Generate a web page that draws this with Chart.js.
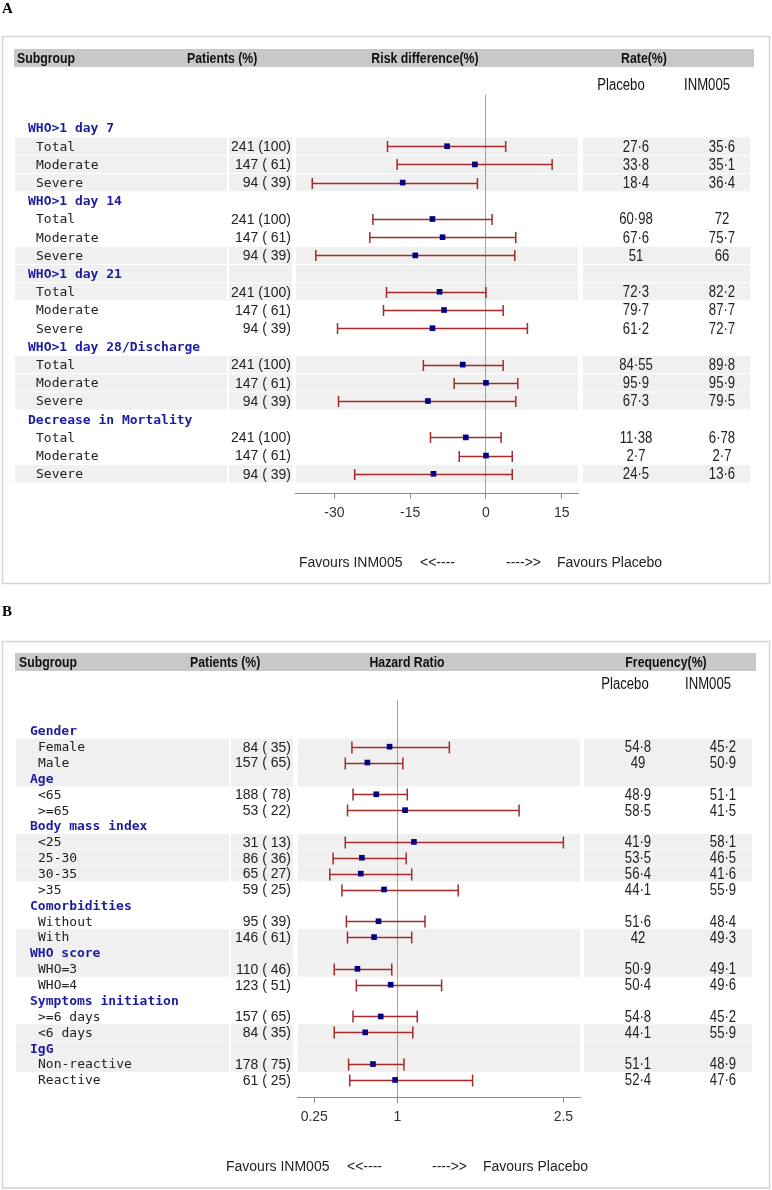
<!DOCTYPE html>
<html>
<head>
<meta charset="utf-8">
<script src="https://cdn.jsdelivr.net/npm/chart.js@4.4.0/dist/chart.umd.min.js"></script>
<style>
body { margin: 0; background: #fff; }
.panel { position: absolute; left: 0; width: 772px; }
#wrapA { top: 0; height: 590px; }
#wrapB { top: 590px; height: 600px; }
</style>
</head>
<body>
<div class="panel" id="wrapA"><canvas id="forestA"></canvas></div>
<div class="panel" id="wrapB"><canvas id="forestB"></canvas></div>
<script>
// ---- panel A: risk difference (%) ----
var groupsA = ['WHO>1 day 7', 'WHO>1 day 14', 'WHO>1 day 21', 'WHO>1 day 28/Discharge', 'Decrease in Mortality'];
var groupSizeA = [3, 3, 3, 3, 3];
var subgroupsA = ['Total', 'Moderate', 'Severe', 'Total', 'Moderate', 'Severe', 'Total', 'Moderate', 'Severe',
    'Total', 'Moderate', 'Severe', 'Total', 'Moderate', 'Severe'];
var patientsA = [241, 147, 94, 241, 147, 94, 241, 147, 94, 241, 147, 94, 241, 147, 94];
var pctA = [100, 61, 39, 100, 61, 39, 100, 61, 39, 100, 61, 39, 100, 61, 39];
var diffA = [-7.7, -2.2, -16.5, -10.6, -8.6, -14.0, -9.2, -8.3, -10.6, -4.6, 0.0, -11.5, -4.0, 0.0, -10.4];
var lowA = [-19.5, -17.6, -34.4, -22.4, -23.0, -33.7, -19.7, -20.3, -29.4, -12.4, -6.3, -29.2, -11.0, -5.3, -26.0];
var highA = [3.9, 13.1, -1.7, 1.2, 5.9, 5.7, 0.0, 3.4, 8.2, 3.4, 6.3, 5.9, 3.0, 5.2, 5.2];
var placeboA = [27.6, 33.8, 18.4, 60.98, 67.6, 51, 72.3, 79.7, 61.2, 84.55, 95.9, 67.3, 11.38, 2.7, 24.5];
var inmA = [35.6, 35.1, 36.4, 72, 75.7, 66, 82.2, 87.7, 72.7, 89.8, 95.9, 79.5, 6.78, 2.7, 13.6];
var ticksA = [-30, -15, 0, 15];
var titlesA = ['Subgroup', 'Patients (%)', 'Risk difference(%)', 'Rate(%)'];

// ---- panel B: hazard ratio ----
var groupsB = ['Gender', 'Age', 'Body mass index', 'Comorbidities', 'WHO score', 'Symptoms initiation', 'IgG'];
var groupSizeB = [2, 2, 4, 2, 2, 2, 2];
var subgroupsB = ['Female', 'Male', '<65', '>=65', '<25', '25-30', '30-35', '>35', 'Without', 'With',
    'WHO=3', 'WHO=4', '>=6 days', '<6 days', 'Non-reactive', 'Reactive'];
var patientsB = [84, 157, 188, 53, 31, 86, 65, 59, 95, 146, 110, 123, 157, 84, 178, 61];
var pctB = [35, 65, 78, 22, 13, 36, 27, 25, 39, 61, 46, 51, 65, 35, 75, 25];
var hrB = [0.93, 0.73, 0.81, 1.07, 1.15, 0.68, 0.67, 0.88, 0.83, 0.79, 0.64, 0.94, 0.85, 0.71, 0.78, 0.98];
var lowB = [0.59, 0.53, 0.60, 0.55, 0.53, 0.42, 0.39, 0.50, 0.54, 0.55, 0.43, 0.63, 0.60, 0.43, 0.56, 0.57];
var highB = [1.47, 1.05, 1.09, 2.10, 2.50, 1.08, 1.13, 1.55, 1.25, 1.13, 0.95, 1.40, 1.18, 1.14, 1.06, 1.68];
var placeboB = [54.8, 49, 48.9, 58.5, 41.9, 53.5, 56.4, 44.1, 51.6, 42, 50.9, 50.4, 54.8, 44.1, 51.1, 52.4];
var inmB = [45.2, 50.9, 51.1, 41.5, 58.1, 46.5, 41.6, 55.9, 48.4, 49.3, 49.1, 49.6, 45.2, 55.9, 48.9, 47.6];
var ticksB = [0.25, 1, 2.5];
var titlesB = ['Subgroup', 'Patients (%)', 'Hazard Ratio', 'Frequency(%)'];

var armLabels = ['Placebo', 'INM005'];
var favourLabels = ['Favours INM005', '<<----', '---->>', 'Favours Placebo'];

var SANS = '"Liberation Sans", Arial, sans-serif';
var MONO = '"DejaVu Sans Mono", monospace';

function fmtNum(v) {
    return String(v).replace('.', '\u00b7');
}
function fmtPatients(n, p) {
    var s = String(p);
    while (s.length < 3) s = ' ' + s;
    return n + ' (' + s + ')';
}
// squeezed Arial, stands in for the narrow font of the original
function narrowText(c, t, x, y, align) {
    c.save();
    c.translate(x, y);
    c.scale(0.82, 1);
    c.textAlign = align;
    c.fillText(t, 0, 0);
    c.restore();
}

function ForestChart(L, D) {
    // rows: group header followed by its subgroups
    var rows = [], k = 0;
    D.groups.forEach(function (g, gi) {
        rows.push({ head: g });
        for (var j = 0; j < D.sizes[gi]; j++) {
            rows.push({ k: k });
            k++;
        }
    });
    var points = [];
    rows.forEach(function (r, i) {
        if (r.head === undefined) points.push({ x: D.est[r.k], y: i });
    });
    var axisH = 30;

    var table = {
        id: 'table',
        beforeDraw: function (chart) {
            var c = chart.ctx, ys = chart.scales.y;
            var step = ys.getPixelForValue(1) - ys.getPixelForValue(0);
            c.save();
            c.textBaseline = 'middle';
            c.fillStyle = '#000';
            c.font = 'bold 15px "Liberation Serif", serif';
            c.textAlign = 'left';
            c.fillText(L.tag, 2, L.tagY);

            c.strokeStyle = '#d4d4d4';
            c.lineWidth = 1.5;
            c.strokeRect(L.box[0], L.box[1], L.box[2], L.box[3]);

            c.fillStyle = '#c8c8c8';
            c.fillRect(L.bar[0], L.bar[1], L.bar[2], L.bar[3]);
            c.fillStyle = '#111';
            c.font = 'bold 15px ' + SANS;
            D.titles.forEach(function (t, i) {
                narrowText(c, t, L.titleX[i], L.bar[1] + L.bar[3] / 2 + 1, L.titleAlign[i]);
            });
            c.font = '16px ' + SANS;
            armLabels.forEach(function (t, i) {
                narrowText(c, t, L.armX[i], L.armY, 'center');
            });

            // banded rows, three at a time
            c.fillStyle = '#f0f0f0';
            rows.forEach(function (r, i) {
                if (i < 1 || Math.floor((i - 1) / 3) % 2) return;
                var py = ys.getPixelForValue(i);
                L.cols.forEach(function (col) {
                    c.fillRect(col[0], py - step / 2 + L.rowGap / 2, col[1] - col[0], step - L.rowGap);
                });
            });

            rows.forEach(function (r, i) {
                var py = ys.getPixelForValue(i);
                if (r.head !== undefined) {
                    c.fillStyle = '#1c1ca0';
                    c.font = 'bold 13px ' + MONO;
                    c.textAlign = 'left';
                    c.fillText(r.head, L.headX, py + 1);
                    return;
                }
                c.fillStyle = '#222';
                c.font = '13px ' + MONO;
                c.textAlign = 'left';
                c.fillText(D.labels[r.k], L.labelX, py + 1);
                c.font = '14px ' + SANS;
                c.textAlign = 'right';
                c.fillText(fmtPatients(D.n[r.k], D.pct[r.k]), L.patRight, py + 1);
                c.font = '16px ' + SANS;
                narrowText(c, fmtNum(D.placebo[r.k]), L.valX[0], py + 1, 'center');
                narrowText(c, fmtNum(D.inm[r.k]), L.valX[1], py + 1, 'center');
            });

            c.fillStyle = '#222';
            c.font = '14px ' + SANS;
            c.textAlign = 'left';
            favourLabels.forEach(function (t, i) {
                c.fillText(t, L.favX[i], L.favY);
            });
            c.restore();
        },
        beforeDatasetsDraw: function (chart) {
            var c = chart.ctx, xs = chart.scales.x, ys = chart.scales.y;
            c.save();
            c.strokeStyle = '#a52a2a';
            c.lineWidth = 1.5;
            rows.forEach(function (r, i) {
                if (r.head !== undefined) return;
                var py = Math.round(ys.getPixelForValue(i)) + 0.5;
                var x0 = xs.getPixelForValue(D.low[r.k]), x1 = xs.getPixelForValue(D.high[r.k]);
                c.beginPath();
                c.moveTo(x0, py);
                c.lineTo(x1, py);
                c.moveTo(x0, py - L.capH);
                c.lineTo(x0, py + L.capH);
                c.moveTo(x1, py - L.capH);
                c.lineTo(x1, py + L.capH);
                c.stroke();
            });
            c.restore();
        }
    };

    return new Chart(document.getElementById(L.canvas), {
        type: 'scatter',
        data: {
            datasets: [{
                label: 'estimate',
                data: points,
                pointStyle: 'rect',
                pointRadius: 4,
                pointHoverRadius: 4,
                backgroundColor: '#000080',
                borderColor: '#000080',
                borderWidth: 0
            }]
        },
        options: {
            responsive: true,
            maintainAspectRatio: false,
            animation: false,
            events: [],
            layout: {
                padding: {
                    left: L.plotX[0],
                    right: 772 - L.plotX[1],
                    top: L.plotTop,
                    bottom: L.height - L.axisY - axisH
                }
            },
            plugins: {
                legend: { display: false },
                tooltip: { enabled: false }
            },
            scales: {
                x: {
                    type: 'linear',
                    min: L.xMin,
                    max: L.xMax,
                    afterBuildTicks: function (s) {
                        s.ticks = D.ticks.map(function (v) { return { value: v }; });
                    },
                    afterFit: function (s) { s.height = axisH; },
                    grid: {
                        color: function (ctx) {
                            return ctx.tick && ctx.tick.value === L.ref ? '#a0a0a0' : 'rgba(0,0,0,0)';
                        },
                        tickColor: '#8c8c8c',
                        tickLength: 6,
                        lineWidth: 1
                    },
                    border: { display: true, color: '#8c8c8c', width: 1 },
                    ticks: {
                        padding: 6,
                        color: '#333',
                        font: { family: SANS, size: 14 },
                        callback: function (v) { return String(v); }
                    }
                },
                y: {
                    type: 'linear',
                    display: false,
                    reverse: true,
                    min: (L.plotTop - L.row0) / L.rowStep,
                    max: (L.axisY - L.row0) / L.rowStep
                }
            }
        },
        plugins: [table]
    });
}

ForestChart({
    canvas: 'forestA', height: 590, tag: 'A', tagY: 9,
    box: [2.5, 36.5, 767, 547],
    bar: [14, 49, 740, 18],
    titleX: [17, 187, 425, 644], titleAlign: ['left', 'left', 'center', 'center'],
    armY: 86, armX: [621, 707],
    plotX: [295, 578], plotTop: 95, axisY: 493, row0: 128, rowStep: 18.2,
    cols: [[15, 227], [229, 292], [296, 578], [583, 750]], rowGap: 1,
    headX: 28, labelX: 36, patRight: 291, valX: [636, 722],
    favY: 563, favX: [299, 420, 506, 557],
    xMin: -37.82, xMax: 18.22, ref: 0, capH: 5.5
}, {
    groups: groupsA, sizes: groupSizeA, labels: subgroupsA, n: patientsA, pct: pctA,
    est: diffA, low: lowA, high: highA, placebo: placeboA, inm: inmA,
    ticks: ticksA, titles: titlesA
});

ForestChart({
    canvas: 'forestB', height: 600, tag: 'B', tagY: 22,
    box: [2.5, 51.5, 767, 546.5],
    bar: [15, 63, 741, 18],
    titleX: [19, 190, 407, 666], titleAlign: ['left', 'left', 'center', 'center'],
    armY: 95, armX: [625, 708],
    plotX: [297, 580], plotTop: 110, axisY: 507, row0: 140.8, rowStep: 15.87,
    cols: [[16, 229], [231, 293], [298, 580], [584, 752]], rowGap: 0,
    headX: 30, labelX: 38, patRight: 291, valX: [638, 723],
    favY: 577, favX: [226, 347, 432, 483],
    xMin: 0.094, xMax: 2.65, ref: 1, capH: 6
}, {
    groups: groupsB, sizes: groupSizeB, labels: subgroupsB, n: patientsB, pct: pctB,
    est: hrB, low: lowB, high: highB, placebo: placeboB, inm: inmB,
    ticks: ticksB, titles: titlesB
});
</script>
</body>
</html>
